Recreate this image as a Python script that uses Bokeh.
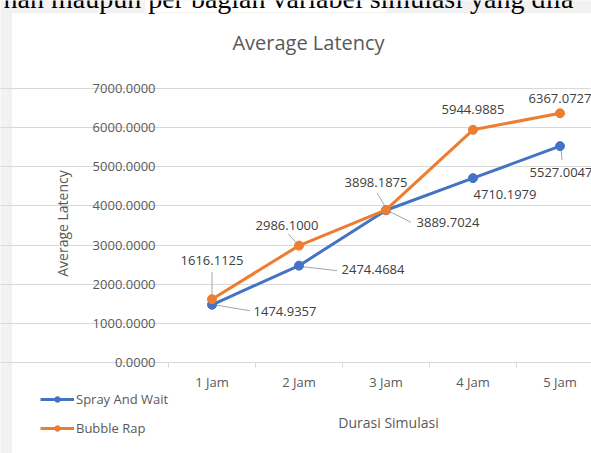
from math import pi
from bokeh.plotting import figure
from bokeh.models import (ColumnDataSource, Range1d, FixedTicker, Grid, Legend, LegendItem,
                          BoxAnnotation)
from bokeh.core.properties import value
from bokeh.embed import file_html
from bokeh.resources import INLINE

# ---------------- data ----------------
categories = ["1 Jam", "2 Jam", "3 Jam", "4 Jam", "5 Jam"]
spray_and_wait = [1474.9357, 2474.4684, 3889.7024, 4710.1979, 5527.0047]
bubble_rap = [1616.1125, 2986.1000, 3898.1875, 5944.9885, 6367.0727]
y_ticks = [0, 1000, 2000, 3000, 4000, 5000, 6000, 7000]
series_names = ["Spray And Wait", "Bubble Rap"]
chart_title = "Average Latency"
x_title = "Durasi Simulasi"
y_title = "Average Latency"
doc_line = "nan maupun per bagian variabel simulasi yang dila"

# ---------------- layout (pixels) ----------------
W, H = 591, 453
PLOT_L, PLOT_T, PLOT_B = 168, 88, 362
BAND = 87.0
Y_MAX = 7000.0
PX_Y = Y_MAX / (PLOT_B - PLOT_T)
PX_X = 1.0 / BAND
X0 = 0.5 - PLOT_L * PX_X
Y1 = Y_MAX + PLOT_T * PX_Y


def dx(px):
    return X0 + px * PX_X


def dy(py):
    return Y1 - py * PX_Y


GRAY = "#d9d9d9"
TXT = "#595959"
FONT = "Open Sans"
BLUE = "#4472C4"
ORANGE = "#ED7D31"

xs = list(range(1, len(categories) + 1))

p = figure(width=W, height=H, x_range=Range1d(X0, dx(W)), y_range=Range1d(dy(H), Y1),
           output_backend="svg", toolbar_location=None, min_border=0,
           x_axis_location=None, y_axis_location=None,
           background_fill_color="#f2f2f2", border_fill_color="#f2f2f2",
           outline_line_color=None)
p.grid.visible = False

# page strip and chart box
p.add_layout(BoxAnnotation(left=dx(145), right=dx(386), top=dy(0), bottom=dy(12),
                           fill_color="white", fill_alpha=1, line_color=None, level="image"))
p.add_layout(BoxAnnotation(left=dx(11), right=dx(W + 20), top=dy(12), bottom=dy(H + 20),
                           fill_color="white", fill_alpha=1, line_color=GRAY,
                           line_width=1, level="image"))
p.text(x=[dx(3)], y=[dy(-2.5)], text=[doc_line], text_align="left",
       text_baseline="middle", text_font=value("Liberation Serif"),
       text_font_size=value("28px"), text_color="#000000")

# value axis: grid lines and tick labels
p.add_layout(Grid(dimension=1, ticker=FixedTicker(ticks=y_ticks), bounds=(0.5, dx(W + 50)),
                  grid_line_color=GRAY, grid_line_width=1))
p.text(x=[0.5] * len(y_ticks), y=y_ticks, text=[f"{t:.4f}" for t in y_ticks],
       x_offset=-13, text_align="right", text_baseline="middle", text_font=value(FONT),
       text_font_size=value("13px"), text_color=TXT)

# category axis: tick marks and labels
bounds = [x - 0.5 for x in xs] + [xs[-1] + 0.5]
p.segment(x0=bounds, y0=[0] * len(bounds), x1=bounds, y1=[-5 * PX_Y] * len(bounds),
          line_color=GRAY, line_width=1)
p.text(x=xs, y=[0] * len(xs), text=categories, y_offset=19, text_align="center",
       text_baseline="middle", text_font=value(FONT), text_font_size=value("13px"),
       text_color=TXT)

# titles
p.text(x=[dx(308)], y=[dy(42)], text=[chart_title], text_align="center",
       text_baseline="middle", text_font=value(FONT), text_font_size=value("20px"),
       text_color=TXT)
p.text(x=[dx(62)], y=[dy(223)], text=[y_title], angle=pi / 2, text_align="center",
       text_baseline="middle", text_font=value(FONT), text_font_size=value("14px"),
       text_color=TXT)
p.text(x=[dx(388)], y=[dy(422)], text=[x_title], text_align="center",
       text_baseline="middle", text_font=value(FONT), text_font_size=value("14px"),
       text_color=TXT)

# leader lines (pixel offsets from point: index, start dx, dy, end dx, dy; screen y down)
spray_leaders = [(0, 2, 0, 38, 6), (1, 3, 1, 38, 5), (2, 3, 1, 25, 12), (4, 1, 2, 2, 14)]
bubble_leaders = [(0, 0, -2, 0, -27), (1, -2, -2, -11, -12), (2, 0, -2, -9, -17)]
lx0, ly0, lx1, ly1 = [], [], [], []
for series, leaders in ((spray_and_wait, spray_leaders), (bubble_rap, bubble_leaders)):
    for i, a, b, c, d in leaders:
        lx0.append(xs[i] + a * PX_X)
        ly0.append(series[i] - b * PX_Y)
        lx1.append(xs[i] + c * PX_X)
        ly1.append(series[i] - d * PX_Y)
p.segment(x0=lx0, y0=ly0, x1=lx1, y1=ly1, line_color="#a6a6a6", line_width=1)

r1 = p.line(xs, spray_and_wait, line_color=BLUE, line_width=3)
s1 = p.scatter(xs, spray_and_wait, size=9, fill_color=BLUE, line_color=BLUE)
r2 = p.line(xs, bubble_rap, line_color=ORANGE, line_width=3)
s2 = p.scatter(xs, bubble_rap, size=9, fill_color=ORANGE, line_color=ORANGE)

# data labels (pixel offsets, screen y down)
spray_off = [(73, 7), (74, 4), (62, 12), (32, 16), (1, 26)]
bubble_off = [(0, -39), (-12, -20), (-10, -27), (0, -20), (0, -15)]
lab = dict(x=[], y=[], t=[], xo=[], yo=[])
for series, offs in ((spray_and_wait, spray_off), (bubble_rap, bubble_off)):
    for x, v, (ox, oy) in zip(xs, series, offs):
        lab["x"].append(x)
        lab["y"].append(v)
        lab["t"].append(f"{v:.4f}")
        lab["xo"].append(ox)
        lab["yo"].append(oy)
p.text(x="x", y="y", text="t", x_offset="xo", y_offset="yo", source=ColumnDataSource(lab),
       text_align="center", text_baseline="middle", text_font=value(FONT),
       text_font_size=value("13px"), text_color="#404040")

# legend
legend = Legend(items=[LegendItem(label=series_names[0], renderers=[r1, s1]),
                       LegendItem(label=series_names[1], renderers=[r2, s2])],
                location=(40, 16), glyph_width=34, glyph_height=14, label_height=14,
                spacing=11, padding=0, margin=0, border_line_color=None,
                background_fill_alpha=0, label_text_font=FONT,
                label_text_font_size="13px", label_text_color=TXT, label_standoff=2)
p.add_layout(legend)

open("out.html", "w").write(file_html(p, INLINE))
